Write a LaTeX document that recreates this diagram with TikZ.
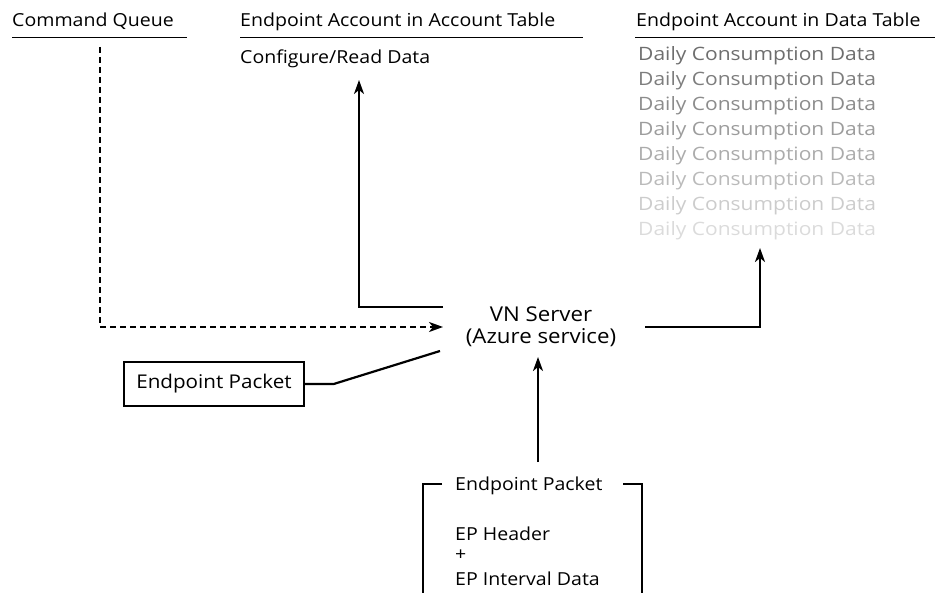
\documentclass[tikz,border=0pt]{standalone}
\usepackage{fontspec}
\setmainfont{Open Sans}[FakeStretch=1.09]
\newfontfamily\dailyfont{Open Sans}[FakeStretch=1.14]
\usetikzlibrary{arrows.meta}
\begin{document}
\begin{tikzpicture}[x=1bp,y=-1bp,
  lbl/.style={anchor=base west, inner sep=0pt, font=\fontsize{18}{22}\selectfont},
  daily/.style={anchor=base west, inner sep=0pt, font=\dailyfont\fontsize{18.5}{22}\selectfont},
  ctr/.style={anchor=base, inner sep=0pt, font=\fontsize{20.5}{24}\selectfont},
  conn/.style={line width=2.2bp},
  arr/.style={conn, -{Stealth[length=14bp,width=10bp,inset=4bp]}},
  uline/.style={line width=1.6bp},
  dashline/.style={dash pattern=on 6bp off 4bp}]
\useasboundingbox (0,0) rectangle (935,593);
% headers
\node[lbl] (cq) at (12,27) {Command Queue};
\draw[uline] (12,37.5) -- (187,37.5);
\node[lbl] (acct) at (240,27) {Endpoint Account in Account Table};
\draw[uline] (240,37.5) -- (583,37.5);
\node[lbl] (dt) at (636,27) {Endpoint Account in Data Table};
\draw[uline] (635,37.5) -- (935,37.5);
\node[lbl] (cfg) at (240,64) {Configure/Read Data};
% daily data
\foreach \i/\p in {1/57,2/51,3/45,4/39,5/33,6/27,7/20,8/14}{
  \node[daily, text=black!\p] (d\i) at (638,{61+25*(\i-1)}) {Daily Consumption Data};
}
% server
\node[ctr] (vn) at (541,321) {VN Server};
\node[ctr] (vnb) at (541,343) {(Azure service)};
\coordinate (vnW1) at (443,307);
\coordinate (vnW2) at (443,327);
\coordinate (vnW3) at (440,351);
\coordinate (vnE) at (645,327);
\coordinate (vnS) at (538,357);
\coordinate (cfgS) at (359,80);
\coordinate (cqS) at (100,47);
\coordinate (dS) at (760,248);
\coordinate (pkT) at (538,462);
\draw[arr] (vnW1) -| (cfgS);
\draw[arr, dashline] (cqS) |- (vnW2);
\draw[arr] (vnE) -| (dS);
% endpoint packet box
\node[draw, line width=1.4bp, minimum width=180bp, minimum height=44bp, inner sep=0pt,
  font=\fontsize{19}{23}\selectfont] (ep) at (214,384) {Endpoint Packet};
\draw[conn] (ep.east) -- ++(29,0) -- (vnW3);
\draw[arr] (pkT) -- (vnS);
% bracket
\node[lbl] (bp) at (455,490) {Endpoint Packet};
\draw[conn] (bp.west |- 0,484) ++(-13,0) -- (423,484) -- (423,593);
\draw[conn] (623,484) -- (642,484) -- (642,593);
\node[lbl] (eph) at (455,540) {EP Header};
\node[lbl] (epp) at (455,560) {+};
\node[lbl] (epi) at (455,585) {EP Interval Data};
\end{tikzpicture}
\end{document}
